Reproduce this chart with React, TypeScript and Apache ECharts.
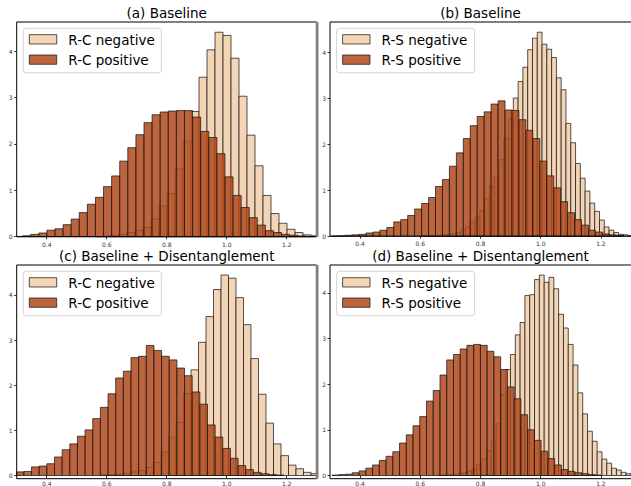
import React, { useEffect, useRef } from "react";
import * as echarts from "echarts";

// ---- tick labels / texts ----
const xTicks = [0.4, 0.6, 0.8, 1.0, 1.2];
const yTicks = [0, 1, 2, 3, 4];
const titles = [
  "(a) Baseline",
  "(b) Baseline",
  "(c) Baseline + Disentanglement",
  "(d) Baseline + Disentanglement",
];
const negLabels = ["R-C negative", "R-S negative", "R-C negative", "R-S negative"];
const posLabels = ["R-C positive", "R-S positive", "R-C positive", "R-S positive"];

// ---- histogram data (bin start, bin width, densities) ----
// (a) Baseline, R-C
const aNegStart = 0.561;
const aNegWidth = 0.02667;
const aNeg = [0.008, 0.015, 0.03, 0.05, 0.09, 0.14, 0.2, 0.38, 0.66, 0.93, 1.46, 2.06, 2.7, 3.44, 4.03, 4.41, 4.34, 3.85, 3.03, 2.19, 1.53, 0.89, 0.5, 0.29, 0.16, 0.09, 0.04, 0.02];
const aPosStart = 0.2927;
const aPosWidth = 0.02698;
const aPos = [0.005, 0.02, 0.05, 0.08, 0.14, 0.17, 0.26, 0.38, 0.52, 0.7, 0.85, 1.08, 1.31, 1.63, 1.92, 2.2, 2.46, 2.63, 2.69, 2.71, 2.72, 2.72, 2.58, 2.27, 2.14, 1.79, 1.29, 0.89, 0.63, 0.41, 0.25, 0.13, 0.09, 0.05, 0.03, 0.015, 0.007];

// (b) Baseline, R-S
const bNegStart = 0.607;
const bNegWidth = 0.0159;
const bNeg = [0.005, 0.01, 0.015, 0.02, 0.03, 0.04, 0.06, 0.08, 0.14, 0.2, 0.31, 0.42, 0.56, 0.82, 1.09, 1.3, 1.66, 2.12, 2.55, 3.0, 3.36, 3.67, 4.05, 4.3, 4.43, 4.17, 4.06, 3.88, 3.44, 3.18, 2.45, 2.03, 1.58, 1.26, 0.98, 0.72, 0.54, 0.35, 0.2, 0.13, 0.08, 0.04, 0.03, 0.01];
const bPosStart = 0.304;
const bPosWidth = 0.0231;
const bPos = [0.005, 0.01, 0.02, 0.03, 0.04, 0.07, 0.09, 0.13, 0.19, 0.31, 0.36, 0.45, 0.59, 0.71, 0.84, 1.08, 1.23, 1.52, 1.81, 2.12, 2.4, 2.6, 2.7, 2.87, 2.94, 2.74, 2.73, 2.53, 2.3, 2.12, 1.63, 1.31, 1.05, 0.75, 0.51, 0.36, 0.24, 0.13, 0.09, 0.05, 0.03, 0.015];

// (c) Baseline + Disentanglement, R-C
const cNegStart = 0.581;
const cNegWidth = 0.025;
const cNeg = [0.01, 0.02, 0.03, 0.05, 0.08, 0.11, 0.18, 0.29, 0.52, 0.85, 1.18, 1.81, 2.34, 2.95, 3.52, 4.12, 4.44, 4.37, 3.94, 3.34, 2.59, 1.8, 1.16, 0.7, 0.44, 0.23, 0.15, 0.07, 0.04, 0.02];
const cPosStart = 0.273;
const cPosWidth = 0.0255;
const cPos = [0.04, 0.08, 0.09, 0.19, 0.21, 0.26, 0.41, 0.57, 0.7, 0.87, 1.01, 1.26, 1.51, 1.81, 2.16, 2.31, 2.61, 2.64, 2.88, 2.77, 2.64, 2.56, 2.38, 2.21, 1.85, 1.58, 1.12, 0.85, 0.6, 0.38, 0.22, 0.13, 0.07, 0.04, 0.02, 0.01];

// (d) Baseline + Disentanglement, R-S
const dNegStart = 0.6596;
const dNegWidth = 0.016;
const dNeg = [0.01, 0.01, 0.02, 0.03, 0.04, 0.06, 0.09, 0.14, 0.23, 0.36, 0.54, 0.75, 1.13, 1.77, 2.32, 2.65, 3.08, 3.35, 3.94, 3.96, 4.29, 4.39, 4.23, 4.34, 4.09, 3.53, 3.23, 2.87, 2.42, 1.81, 1.35, 0.97, 0.75, 0.52, 0.36, 0.27, 0.16, 0.12, 0.07, 0.04, 0.02];
const dPosStart = 0.307;
const dPosWidth = 0.0224;
const dPos = [0.01, 0.02, 0.03, 0.06, 0.1, 0.16, 0.23, 0.33, 0.42, 0.52, 0.71, 0.89, 1.09, 1.29, 1.63, 1.86, 2.2, 2.53, 2.65, 2.77, 2.85, 2.87, 2.85, 2.72, 2.6, 2.32, 1.94, 1.68, 1.33, 1.0, 0.77, 0.53, 0.37, 0.23, 0.13, 0.09, 0.06, 0.04, 0.02, 0.01];

const histData = [
  { neg: [aNegStart, aNegWidth, aNeg], pos: [aPosStart, aPosWidth, aPos] },
  { neg: [bNegStart, bNegWidth, bNeg], pos: [bPosStart, bPosWidth, bPos] },
  { neg: [cNegStart, cNegWidth, cNeg], pos: [cPosStart, cPosWidth, cPos] },
  { neg: [dNegStart, dNegWidth, dNeg], pos: [dPosStart, dPosWidth, dPos] },
] as const;

// ---- layout & style ----
const panels = [
  { left: 16.7, top: 22, width: 300, height: 214.7 },
  { left: 330, top: 22, width: 302, height: 214.2 },
  { left: 16.7, top: 265, width: 300, height: 213.7 },
  { left: 330, top: 265, width: 302, height: 213.7 },
];
const NEG_FILL = "#F3D5B6";
const POS_FILL = "rgba(176,73,28,0.85)";
const EDGE = "rgba(20,20,20,0.8)";
const FONT = '"DejaVu Sans", sans-serif';

function toBins(start: number, width: number, heights: readonly number[]) {
  return heights.map((h, i) => [start + i * width, start + (i + 1) * width, h]);
}

function makeRender(fill: string) {
  return (params: any, api: any) => {
    const p0 = api.coord([api.value(0), api.value(2)]);
    const p1 = api.coord([api.value(1), 0]);
    const cs = params.coordSys;
    const r = echarts.graphic.clipRectByRect(
      { x: p0[0], y: p0[1], width: p1[0] - p0[0], height: p1[1] - p0[1] },
      { x: cs.x, y: cs.y, width: cs.width, height: cs.height }
    );
    if (!r) return null;
    return {
      type: "rect",
      shape: r,
      style: { fill, stroke: EDGE, lineWidth: 0.9 },
    };
  };
}

function buildOption() {
  const grid: any[] = [];
  const xAxis: any[] = [];
  const yAxis: any[] = [];
  const series: any[] = [];
  const graphic: any[] = [];

  panels.forEach((p, i) => {
    const d = histData[i];
    const ymax = Math.max(...d.neg[2], ...d.pos[2]) * 1.05;
    grid.push({ left: p.left, top: p.top, width: p.width, height: p.height, containLabel: false });
    xAxis.push({
      type: "value",
      gridIndex: i,
      min: 0.3,
      max: 1.3,
      splitLine: { show: false },
      axisLine: { show: false },
      axisTick: { show: true, length: 2.5, customValues: xTicks, lineStyle: { color: "#000", width: 0.8 } },
      axisLabel: {
        customValues: xTicks,
        formatter: (v: number) => v.toFixed(1),
        fontSize: 6,
        color: "#333",
        fontFamily: FONT,
        margin: 4.5,
      },
    });
    yAxis.push({
      type: "value",
      gridIndex: i,
      min: 0,
      max: ymax,
      splitLine: { show: false },
      axisLine: { show: false },
      axisTick: { show: true, length: 2.5, customValues: yTicks, lineStyle: { color: "#000", width: 0.8 } },
      axisLabel: {
        customValues: yTicks,
        fontSize: 6,
        color: "#333",
        fontFamily: FONT,
        margin: 4,
      },
    });
    series.push({
      type: "custom",
      name: negLabels[i],
      xAxisIndex: i,
      yAxisIndex: i,
      renderItem: makeRender(NEG_FILL),
      encode: { x: [0, 1], y: 2 },
      data: toBins(d.neg[0], d.neg[1], d.neg[2]),
      silent: true,
      z: 2,
    });
    series.push({
      type: "custom",
      name: posLabels[i],
      xAxisIndex: i,
      yAxisIndex: i,
      renderItem: makeRender(POS_FILL),
      encode: { x: [0, 1], y: 2 },
      data: toBins(d.pos[0], d.pos[1], d.pos[2]),
      silent: true,
      z: 3,
    });

    // frame (spines)
    graphic.push({
      type: "rect",
      z: 50,
      shape: { x: p.left, y: p.top, width: p.width, height: p.height },
      style: { fill: "none", stroke: "#000", lineWidth: 1 },
    });
    // title
    graphic.push({
      type: "text",
      z: 50,
      x: p.left + p.width / 2 + (i % 2 === 1 ? -0.5 : 0),
      y: p.top - 9,
      style: {
        text: titles[i],
        font: `13.5px ${FONT}`,
        fill: "#000",
        align: "center",
        verticalAlign: "middle",
      },
    });
    // legend
    const lx = p.left + 6.6;
    const ly = p.top + 6.3;
    graphic.push({
      type: "rect",
      z: 60,
      shape: { x: lx, y: ly, width: 138, height: 44.5, r: 3 },
      style: { fill: "rgba(255,255,255,0.8)", stroke: "#d5d5d5", lineWidth: 1 },
    });
    [
      { label: negLabels[i], fill: NEG_FILL, dy: 6.4 },
      { label: posLabels[i], fill: POS_FILL, dy: 26.7 },
    ].forEach((e) => {
      graphic.push({
        type: "rect",
        z: 61,
        shape: { x: lx + 6, y: ly + e.dy, width: 27.4, height: 9.3 },
        style: { fill: e.fill, stroke: EDGE, lineWidth: 0.9 },
      });
      graphic.push({
        type: "text",
        z: 61,
        x: lx + 45,
        y: ly + e.dy + 4.8,
        style: {
          text: e.label,
          font: `13.5px ${FONT}`,
          fill: "#000",
          align: "left",
          verticalAlign: "middle",
        },
      });
    });
  });

  // grey right spines of the left-hand panels
  [0, 2].forEach((i) => {
    const p = panels[i];
    graphic.push({
      type: "rect",
      z: 55,
      shape: { x: p.left + p.width - 1, y: p.top, width: 2.8, height: p.height },
      style: { fill: "#808080" },
    });
  });

  return {
    animation: false,
    backgroundColor: "#fff",
    grid,
    xAxis,
    yAxis,
    series,
    graphic,
  };
}

export default function App() {
  const ref = useRef<HTMLDivElement>(null);
  useEffect(() => {
    if (!ref.current) return;
    const chart = echarts.init(ref.current, null, { renderer: "svg" });
    chart.setOption(buildOption() as any);
    return () => chart.dispose();
  }, []);
  return (
    <div
      ref={ref}
      style={{ position: "absolute", left: 0, top: 0, width: 631, height: 486, background: "#fff" }}
    />
  );
}
